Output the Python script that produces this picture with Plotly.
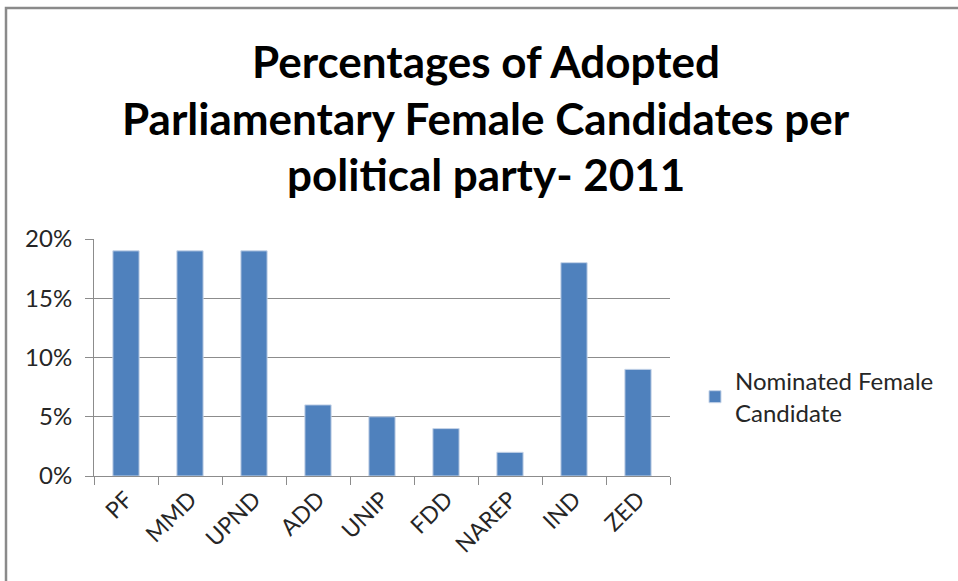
import plotly.graph_objects as go

parties = ["PF", "MMD", "UPND", "ADD", "UNIP", "FDD", "NAREP", "IND", "ZED"]
female_pct = [19, 19, 19, 6, 5, 4, 2, 18, 9]
y_ticks = [0, 5, 10, 15, 20]
y_labels = ["0%", "5%", "10%", "15%", "20%"]
title_lines = ["Percentages of Adopted",
               "Parliamentary Female Candidates per",
               "political party- 2011"]

W, H = 958, 581
L, R, T, B = 94, 670, 239, 476
pw, ph = R - L, B - T

fig = go.Figure()
fig.add_trace(go.Bar(
    x=parties, y=female_pct,
    name="Nominated Female<br>Candidate",
    marker=dict(color="#4F81BD", line=dict(color="#c6d4e8", width=1)),
    showlegend=True,
))

title_centers = [61, 118, 174]
annotations = [
    dict(text=t, xref="paper", yref="paper",
         x=(486 - L) / pw, y=(B - yc) / ph, xanchor="center", yanchor="middle",
         showarrow=False,
         font=dict(family="Lato, sans-serif", size=44, color="black", weight="bold"))
    for t, yc in zip(title_lines, title_centers)
]

fig.update_layout(
    width=W, height=H,
    margin=dict(l=L, r=W - R, t=T, b=H - B, pad=0),
    paper_bgcolor="white", plot_bgcolor="white",
    bargap=0.59,
    font=dict(family="Lato, Carlito, sans-serif", color="#262626", size=22),
    annotations=annotations,
    showlegend=True,
    legend=dict(
        x=(695 - L) / pw, y=(B - 397) / ph, xanchor="left", yanchor="middle",
        font=dict(size=24, color="#262626"), itemwidth=30,
        bgcolor="rgba(0,0,0,0)",
    ),
    xaxis=dict(
        showline=True, linecolor="#8c8c8c", linewidth=1,
        ticks="outside", ticklen=8, tickcolor="#8c8c8c", tickson="boundaries",
        tickangle=-45, tickfont=dict(size=23, color="#262626"),
        showgrid=False,
    ),
    yaxis=dict(
        range=[0, 20], tickvals=y_ticks, ticktext=y_labels,
        showline=True, linecolor="#8c8c8c", linewidth=1,
        ticks="outside", ticklen=8, tickcolor="#8c8c8c",
        ticklabelstandoff=8,
        showgrid=True, gridcolor="#8c8c8c", gridwidth=1,
        zeroline=False,
        tickfont=dict(size=24, color="#262626"),
    ),
    shapes=[dict(
        type="rect", xref="paper", yref="paper",
        x0=(6 - L) / pw, x1=(990 - L) / pw,
        y0=(B - 620) / ph, y1=(B - 8) / ph,
        line=dict(color="#8a8a8a", width=2.5), fillcolor="rgba(0,0,0,0)",
        layer="below",
    )],
)

fig.write_html("out.html")
